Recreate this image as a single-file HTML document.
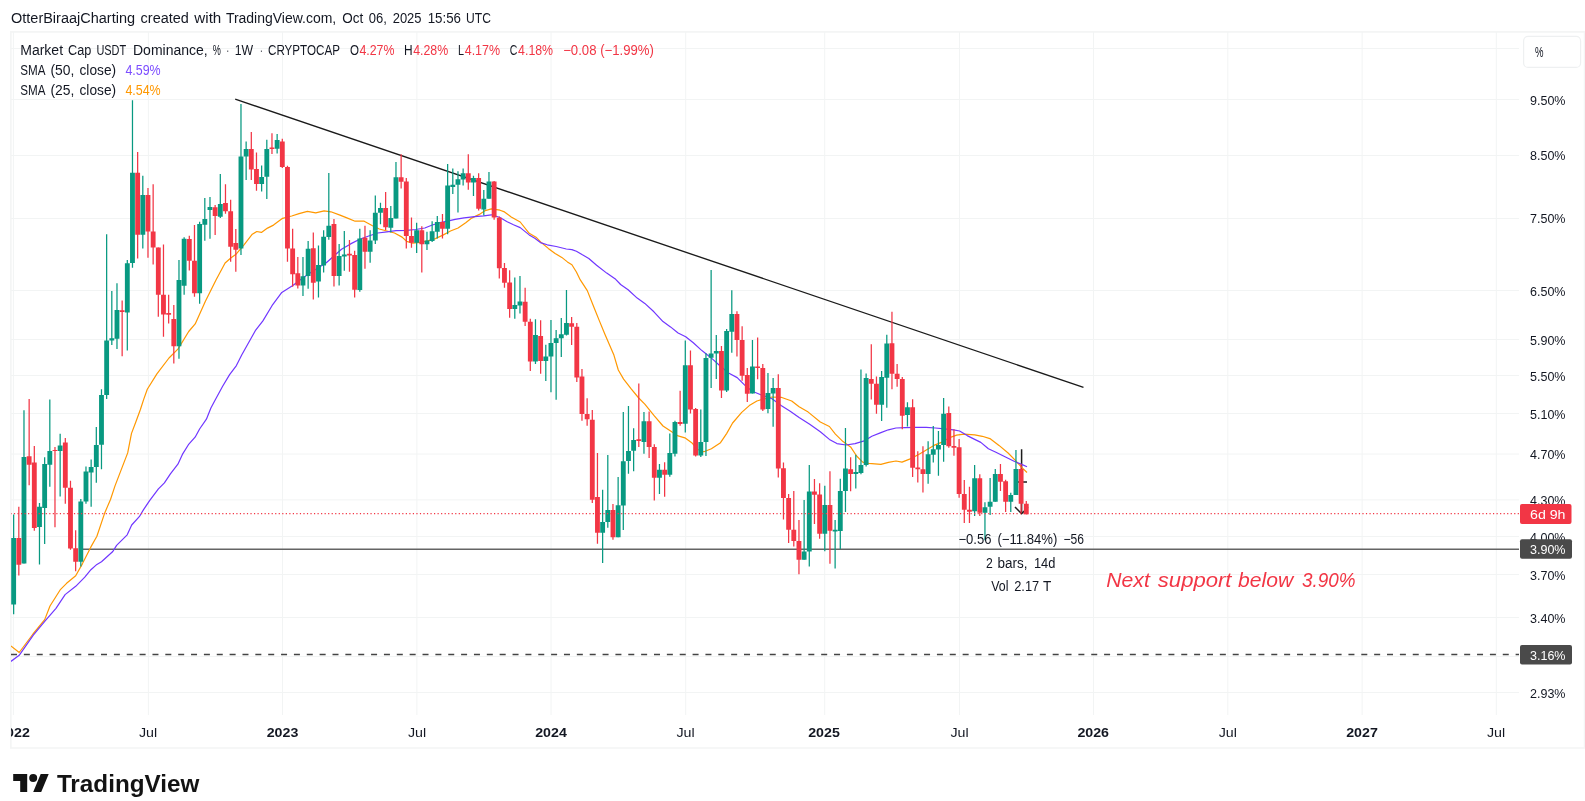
<!DOCTYPE html>
<html><head><meta charset="utf-8"><title>chart</title>
<style>html,body{margin:0;padding:0;background:#fff;width:1585px;height:801px;overflow:hidden}</style></head>
<body>
<svg width="1585" height="801" viewBox="0 0 1585 801" style="position:absolute;left:0;top:0;will-change:transform;font-family:'Liberation Sans',sans-serif">
<defs><clipPath id="pane"><rect x="11" y="32" width="1508" height="683"/></clipPath><clipPath id="tax"><rect x="11" y="715" width="1573" height="32"/></clipPath></defs>
<rect x="0" y="0" width="1585" height="801" fill="#fff"/>
<path d="M10.85 31.8H1584.6V748H10.85z" fill="none" stroke="#f4f5f5" stroke-width="1.7"/>
<path d="M11 48.5H1519.0 M11 99.5H1519.0 M11 155.5H1519.0 M11 218.5H1519.0 M11 290.5H1519.0 M11 339.5H1519.0 M11 375.5H1519.0 M11 413.5H1519.0 M11 454.0H1519.0 M11 499.9H1519.0 M11 536.5H1519.0 M11 574.5H1519.0 M11 617.5H1519.0 M11 656.5H1519.0 M11 692.5H1519.0 M13.4 32V715.0 M148.4 32V715.0 M282.5 32V715.0 M416.9 32V715.0 M551.0 32V715.0 M685.7 32V715.0 M824.7 32V715.0 M959.5 32V715.0 M1093.5 32V715.0 M1227.8 32V715.0 M1362.1 32V715.0 M1496.3 32V715.0" stroke="#f2f4f4" stroke-width="1" fill="none"/>
<g clip-path="url(#pane)">
<path d="M235.2 99.15L1083.5 387.35" stroke="#1a1a1a" stroke-width="1.35" fill="none"/>
<path d="M83 549.3H1520.0" stroke="#646464" stroke-width="1.6" fill="none"/>
<path d="M11 654.5H1520.0" stroke="#444" stroke-width="1.4" stroke-dasharray="6 6.86" fill="none"/>
<path d="M1021.6 449.2V513.4M1015 507L1021.6 513.7L1028 507.3M1016.5 482H1027" stroke="#1c1c1c" stroke-width="1.5" fill="none"/>
<path d="M10.9 646.0 L19.2 652.5 L33.0 634.0 L44.7 619.6 L50.0 606.0 L60.6 589.3 L66.6 583.3 L75.7 575.7 L82.5 563.6 L90.9 546.9 L96.9 536.3 L104.5 513.6 L106.0 509.9 L110.5 499.5 L115.0 485.9 L122.5 466.4 L127.7 452.9 L131.5 433.4 L136.0 421.5 L140.4 409.5 L143.6 399.6 L147.3 389.3 L156.9 373.9 L169.0 358.0 L178.1 348.9 L188.7 331.5 L195.2 323.9 L205.4 301.2 L216.0 280.0 L225.1 263.0 L231.1 257.7 L235.7 254.6 L244.0 244.8 L252.3 234.2 L256.8 231.5 L261.4 232.4 L267.5 228.1 L273.5 225.1 L282.6 218.3 L291.7 216.0 L299.1 213.6 L307.4 211.3 L315.7 212.8 L324.1 210.9 L330.9 211.8 L340.0 215.1 L347.5 218.1 L355.1 221.2 L364.2 221.2 L372.5 225.7 L379.3 229.0 L386.9 231.0 L394.5 233.0 L402.1 237.1 L406.6 241.3 L412.7 243.1 L420.2 242.4 L427.8 240.9 L435.4 238.6 L442.9 235.1 L450.5 231.0 L458.1 228.0 L465.7 222.7 L471.7 218.1 L479.3 214.4 L485.3 210.6 L491.4 208.8 L500.0 210.2 L504.5 211.9 L511.2 217.0 L520.2 222.0 L529.2 233.3 L536.0 237.2 L541.6 242.8 L548.3 248.4 L555.1 253.5 L561.8 257.4 L567.4 261.9 L571.9 264.7 L576.4 272.0 L580.3 279.9 L587.3 290.6 L593.3 305.7 L599.4 320.9 L604.8 333.9 L611.5 349.6 L613.9 355.1 L618.3 370.0 L623.6 379.1 L631.2 388.9 L638.7 398.0 L644.8 404.1 L653.9 415.4 L663.0 426.0 L672.1 432.1 L678.1 435.9 L684.9 437.8 L691.7 442.7 L697.8 449.5 L703.9 451.8 L711.4 448.7 L720.5 442.7 L726.6 433.6 L732.6 423.0 L741.7 412.4 L749.3 405.6 L756.9 401.0 L764.4 398.8 L772.0 397.0 L781.1 397.3 L791.7 401.0 L799.1 406.8 L808.2 412.1 L820.3 422.0 L829.4 426.5 L835.4 434.1 L843.0 441.6 L850.6 446.9 L856.6 456.0 L862.7 462.1 L868.7 463.3 L880.9 464.4 L888.4 462.4 L896.0 461.0 L902.0 462.1 L909.6 459.1 L918.7 454.5 L926.3 450.0 L933.9 445.4 L941.4 442.4 L949.0 437.9 L956.6 435.1 L964.1 434.1 L974.7 434.8 L982.3 436.3 L989.9 438.6 L999.0 445.4 L1008.1 453.0 L1015.6 460.6 L1021.7 467.4 L1027.0 472.5" stroke="#FF9800" stroke-width="1.2" fill="none" stroke-linejoin="round"/>
<path d="M10.9 661.4 L19.2 655.3 L33.3 635.1 L46.2 619.6 L56.0 608.3 L65.1 594.6 L75.7 586.3 L84.8 577.2 L90.9 569.7 L96.9 564.4 L101.5 561.8 L112.8 551.5 L116.6 545.4 L127.2 534.8 L131.7 525.0 L139.3 516.7 L143.4 509.9 L149.6 500.6 L158.4 488.9 L164.4 482.9 L170.4 473.9 L177.9 464.2 L182.4 454.4 L188.4 444.7 L195.1 437.2 L199.6 429.0 L206.4 419.2 L210.9 408.0 L215.3 399.7 L222.5 386.5 L229.6 374.6 L236.4 365.6 L241.7 355.0 L255.3 330.7 L262.9 320.9 L272.0 305.7 L281.8 292.4 L293.2 285.3 L300.0 280.0 L310.0 273.0 L320.3 266.6 L326.3 262.8 L333.9 256.0 L341.5 249.2 L350.6 243.9 L359.7 239.3 L368.7 236.0 L377.8 233.0 L386.9 231.8 L396.0 230.7 L406.6 230.3 L415.7 229.5 L424.8 228.0 L432.3 225.0 L439.9 222.7 L447.5 221.2 L455.1 219.4 L464.1 217.8 L474.7 216.6 L483.8 215.9 L491.4 214.8 L500.0 217.5 L506.7 221.5 L513.5 224.8 L520.2 227.6 L529.2 234.9 L534.8 238.3 L540.4 242.6 L547.2 244.8 L556.2 246.5 L566.3 249.0 L571.9 249.6 L576.4 251.2 L582.0 254.6 L588.8 258.5 L596.6 265.3 L606.7 273.1 L615.7 279.3 L620.6 284.5 L628.1 289.8 L637.2 298.1 L644.8 303.4 L653.9 311.8 L663.0 321.6 L670.5 326.9 L678.1 333.0 L685.7 336.8 L693.3 342.8 L700.8 349.6 L704.7 352.8 L712.3 358.9 L719.9 365.7 L729.0 373.3 L737.2 377.6 L744.7 385.1 L752.3 391.2 L761.4 395.0 L772.0 398.8 L781.1 405.6 L790.2 411.2 L799.1 417.4 L809.7 424.2 L820.3 431.8 L829.4 439.4 L836.9 443.6 L846.0 445.0 L855.1 443.6 L864.2 440.9 L871.8 436.3 L880.9 432.6 L888.4 429.8 L896.0 428.0 L905.1 427.7 L915.7 427.3 L926.3 427.3 L935.4 428.0 L944.5 428.8 L953.5 429.8 L959.6 431.0 L967.2 435.6 L974.7 439.4 L980.8 442.4 L988.4 448.8 L995.9 452.2 L1005.0 456.8 L1014.1 461.3 L1021.7 464.4 L1027.0 466.7" stroke="#7036FF" stroke-width="1.2" fill="none" stroke-linejoin="round"/>
<path d="M13.65 514.4V614.3 M23.98 410.3V563.6 M39.48 503.0V564.4 M44.65 457.2V543.9 M49.82 399.4V486.8 M60.15 433.8V496.6 M80.81 498.9V566.6 M85.98 466.6V503.8 M91.15 459.5V506.8 M96.31 426.9V482.7 M101.48 389.2V469.3 M106.65 234.2V398.9 M111.81 290.9V345.1 M116.98 283.3V348.9 M127.31 259.9V350.4 M132.48 100.3V267.8 M142.81 175.8V248.6 M178.98 259.9V358.7 M184.14 237.2V294.7 M199.64 221.8V303.8 M204.81 197.9V240.7 M209.98 197.0V238.7 M220.31 174.1V218.0 M240.98 103.9V254.9 M246.14 141.5V179.9 M261.64 165.4V191.5 M266.81 139.7V198.9 M277.14 133.9V153.6 M302.97 257.0V296.0 M308.14 240.9V288.8 M318.47 245.6V297.5 M323.64 230.3V272.6 M328.81 173.0V239.8 M339.14 244.0V285.4 M344.31 231.0V270.7 M359.81 228.7V291.8 M370.14 230.3V262.7 M375.31 195.4V243.9 M380.47 202.7V224.2 M390.80 206.0V232.5 M395.97 162.1V218.4 M416.64 222.7V253.0 M426.97 231.8V249.9 M432.14 221.2V242.1 M437.30 215.9V238.6 M447.64 163.9V234.3 M452.80 168.5V193.9 M457.97 171.2V212.5 M463.14 168.5V185.6 M473.47 175.7V195.9 M483.80 190.1V215.4 M488.97 172.0V198.8 M514.80 277.4V318.7 M519.97 275.9V313.4 M535.47 319.2V363.9 M545.80 344.8V380.9 M550.97 320.0V392.2 M556.13 330.1V399.8 M561.30 318.0V356.9 M566.47 290.1V335.4 M602.63 489.8V563.0 M607.80 455.1V527.7 M618.13 477.1V537.2 M623.30 412.1V530.1 M628.46 405.9V473.7 M633.63 428.3V471.2 M643.96 412.1V453.7 M659.46 464.0V494.1 M669.80 433.6V476.8 M674.96 420.7V456.6 M685.29 340.6V432.4 M700.79 409.4V457.1 M705.96 353.3V456.0 M711.13 270.1V388.0 M716.29 335.0V379.0 M726.63 329.1V392.1 M731.79 290.3V352.8 M752.46 340.0V393.5 M767.96 373.0V413.2 M773.13 378.0V426.8 M804.12 500.0V559.8 M809.29 465.1V566.6 M824.79 485.7V551.2 M835.12 520.1V568.6 M840.29 478.7V548.9 M845.46 428.0V512.0 M855.79 454.8V488.6 M860.96 369.4V474.2 M866.12 373.4V466.6 M881.62 370.9V420.9 M886.79 334.8V407.7 M907.45 402.2V426.5 M928.12 441.2V483.7 M933.29 426.0V462.5 M938.45 431.0V475.7 M943.62 398.0V461.8 M974.62 465.1V515.9 M984.95 502.2V540.2 M990.12 478.0V515.1 M995.28 468.9V501.8 M1010.78 492.7V512.1 M1015.95 450.0V494.9" stroke="#089981" stroke-width="1.25" fill="none"/>
<path d="M11.23 537.9h4.85v66.6h-4.85z M21.56 456.9h4.85v106.7h-4.85z M37.06 506.8h4.85v20.2h-4.85z M42.22 464.0h4.85v43.9h-4.85z M47.39 450.9h4.85v13.9h-4.85z M57.72 445.4h4.85v5.5h-4.85z M78.39 501.5h4.85v60.3h-4.85z M83.56 471.6h4.85v29.9h-4.85z M88.72 467.1h4.85v5.3h-4.85z M93.89 445.1h4.85v22.0h-4.85z M99.06 394.9h4.85v49.9h-4.85z M104.22 340.6h4.85v54.3h-4.85z M109.39 338.3h4.85v2.3h-4.85z M114.56 310.0h4.85v28.8h-4.85z M124.89 263.3h4.85v49.3h-4.85z M130.05 172.7h4.85v90.3h-4.85z M140.39 195.0h4.85v39.7h-4.85z M176.55 280.0h4.85v66.2h-4.85z M181.72 238.7h4.85v47.1h-4.85z M197.22 223.9h4.85v69.4h-4.85z M202.39 219.1h4.85v5.7h-4.85z M207.55 206.9h4.85v3.1h-4.85z M217.88 203.9h4.85v12.9h-4.85z M238.55 156.6h4.85v92.0h-4.85z M243.72 149.1h4.85v7.5h-4.85z M259.22 177.0h4.85v6.9h-4.85z M264.38 149.1h4.85v27.7h-4.85z M274.72 140.0h4.85v8.8h-4.85z M300.55 276.3h4.85v9.1h-4.85z M305.72 248.8h4.85v27.1h-4.85z M316.05 264.9h4.85v16.7h-4.85z M321.21 236.8h4.85v28.8h-4.85z M326.38 225.7h4.85v11.4h-4.85z M336.71 256.1h4.85v19.8h-4.85z M341.88 254.6h4.85v1.9h-4.85z M357.38 238.6h4.85v51.4h-4.85z M367.71 240.4h4.85v11.4h-4.85z M372.88 212.8h4.85v27.6h-4.85z M378.05 208.0h4.85v4.8h-4.85z M388.38 218.1h4.85v9.6h-4.85z M393.55 177.3h4.85v41.1h-4.85z M414.21 230.3h4.85v12.5h-4.85z M424.54 240.4h4.85v3.8h-4.85z M429.71 231.3h4.85v9.6h-4.85z M434.88 221.9h4.85v9.9h-4.85z M445.21 185.6h4.85v43.1h-4.85z M450.38 184.8h4.85v2.3h-4.85z M455.54 179.2h4.85v5.6h-4.85z M460.71 173.2h4.85v6.3h-4.85z M471.04 178.0h4.85v4.6h-4.85z M481.38 198.8h4.85v10.7h-4.85z M486.54 181.5h4.85v17.3h-4.85z M512.38 305.1h4.85v3.8h-4.85z M517.54 301.6h4.85v4.0h-4.85z M533.04 335.1h4.85v26.5h-4.85z M543.37 356.6h4.85v4.3h-4.85z M548.54 343.0h4.85v13.6h-4.85z M553.71 338.2h4.85v4.8h-4.85z M558.87 334.2h4.85v4.0h-4.85z M564.04 323.0h4.85v11.7h-4.85z M600.21 522.1h4.85v10.6h-4.85z M605.37 510.0h4.85v12.1h-4.85z M615.71 505.3h4.85v31.9h-4.85z M620.87 461.3h4.85v44.3h-4.85z M626.04 451.0h4.85v9.9h-4.85z M631.21 440.0h4.85v10.7h-4.85z M641.54 421.2h4.85v20.7h-4.85z M657.04 469.7h4.85v8.1h-4.85z M667.37 453.0h4.85v21.8h-4.85z M672.54 421.9h4.85v31.8h-4.85z M682.87 365.3h4.85v58.5h-4.85z M698.37 441.9h4.85v13.7h-4.85z M703.54 358.1h4.85v83.8h-4.85z M708.70 353.6h4.85v4.2h-4.85z M713.87 351.0h4.85v2.6h-4.85z M724.20 331.0h4.85v59.4h-4.85z M729.37 313.9h4.85v17.8h-4.85z M750.03 366.6h4.85v26.9h-4.85z M765.53 393.0h4.85v16.1h-4.85z M770.70 388.1h4.85v5.4h-4.85z M801.70 551.5h4.85v8.3h-4.85z M806.87 491.4h4.85v60.2h-4.85z M822.37 505.0h4.85v28.8h-4.85z M832.70 529.7h4.85v1.8h-4.85z M837.87 491.0h4.85v40.0h-4.85z M843.03 468.4h4.85v22.6h-4.85z M853.36 472.1h4.85v1.8h-4.85z M858.53 465.1h4.85v7.9h-4.85z M863.70 378.0h4.85v87.1h-4.85z M879.20 376.9h4.85v27.9h-4.85z M884.36 343.5h4.85v34.2h-4.85z M905.03 407.2h4.85v7.9h-4.85z M925.70 454.2h4.85v19.7h-4.85z M930.86 449.2h4.85v5.6h-4.85z M936.03 445.0h4.85v4.5h-4.85z M941.20 413.8h4.85v31.2h-4.85z M972.19 478.3h4.85v33.0h-4.85z M982.53 507.2h4.85v5.5h-4.85z M987.69 501.8h4.85v5.0h-4.85z M992.86 473.9h4.85v27.9h-4.85z M1008.36 494.9h4.85v6.9h-4.85z M1013.53 469.1h4.85v25.8h-4.85z" fill="#089981"/>
<path d="M18.82 506.8V575.4 M29.15 398.9V485.2 M34.32 446.0V530.7 M54.98 447.1V527.3 M65.31 438.0V503.8 M70.48 480.7V549.7 M75.65 530.3V571.2 M122.15 300.4V356.2 M137.65 152.1V258.4 M147.98 188.0V257.7 M153.15 184.2V264.5 M158.31 247.5V316.8 M163.48 244.5V336.8 M168.65 294.7V323.6 M173.81 305.0V363.6 M189.31 235.7V270.5 M194.48 225.1V296.7 M215.14 205.0V235.0 M225.48 184.2V213.8 M230.64 199.7V261.8 M235.81 228.9V271.7 M251.31 132.1V179.9 M256.48 152.5V190.8 M271.97 133.2V153.9 M282.31 138.8V168.0 M287.47 165.7V261.8 M292.64 228.8V286.7 M297.81 256.9V288.4 M313.31 232.5V299.5 M333.97 218.9V286.6 M349.47 240.1V271.8 M354.64 250.8V297.5 M364.97 225.7V268.8 M385.64 192.1V230.0 M401.14 154.2V188.6 M406.30 178.0V248.4 M411.47 217.4V247.7 M421.80 226.2V272.6 M442.47 213.9V238.6 M468.30 154.2V189.8 M478.63 173.2V210.6 M494.13 181.0V219.7 M499.30 216.6V278.6 M504.47 262.9V287.7 M509.63 270.3V317.7 M525.13 287.7V326.0 M530.30 318.8V371.0 M540.63 320.3V373.7 M571.63 317.0V345.0 M576.80 323.0V382.0 M581.97 369.0V420.7 M587.13 398.2V425.7 M592.30 410.1V502.9 M597.46 453.0V543.7 M612.96 503.9V539.8 M638.80 383.6V446.9 M649.13 411.6V458.1 M654.30 444.2V500.6 M664.63 462.2V496.8 M680.13 390.7V425.7 M690.46 350.6V413.6 M695.63 407.9V456.6 M721.46 346.0V398.0 M736.96 311.2V356.6 M742.13 326.3V380.7 M747.29 368.1V402.1 M757.63 337.6V379.3 M762.79 364.1V410.9 M778.29 374.2V477.6 M783.46 462.5V519.6 M788.62 494.1V542.9 M793.79 491.0V546.6 M798.96 520.1V574.3 M814.46 479.0V523.9 M819.62 483.2V538.8 M829.96 471.2V563.7 M850.62 457.2V491.3 M871.29 344.2V399.6 M876.46 376.5V413.8 M891.96 311.8V389.3 M897.12 363.9V386.8 M902.29 376.9V429.2 M912.62 399.2V476.9 M917.79 451.2V482.5 M922.95 446.2V492.4 M948.79 406.5V447.7 M953.95 429.2V455.7 M959.12 439.1V497.8 M964.29 480.0V522.9 M969.45 486.8V522.9 M979.79 474.2V515.9 M1000.45 464.1V490.9 M1005.62 479.8V512.1 M1021.12 464.0V513.0 M1026.28 501.1V514.6" stroke="#F23645" stroke-width="1.25" fill="none"/>
<path d="M16.39 537.9h4.85v26.9h-4.85z M26.72 456.2h4.85v8.5h-4.85z M31.89 462.5h4.85v65.5h-4.85z M52.56 450.0h4.85v1.0h-4.85z M62.89 442.4h4.85v45.4h-4.85z M68.06 487.8h4.85v60.7h-4.85z M73.22 548.2h4.85v13.6h-4.85z M119.72 310.3h4.85v1.8h-4.85z M135.22 172.7h4.85v62.0h-4.85z M145.55 195.0h4.85v36.6h-4.85z M150.72 231.6h4.85v15.9h-4.85z M155.89 247.5h4.85v47.2h-4.85z M161.05 294.7h4.85v19.7h-4.85z M166.22 313.0h4.85v1.8h-4.85z M171.39 319.0h4.85v27.2h-4.85z M186.89 239.0h4.85v21.7h-4.85z M192.05 260.7h4.85v32.6h-4.85z M212.72 207.2h4.85v8.8h-4.85z M223.05 203.0h4.85v8.2h-4.85z M228.22 211.2h4.85v35.6h-4.85z M233.38 243.0h4.85v6.8h-4.85z M248.88 149.1h4.85v20.5h-4.85z M254.05 169.0h4.85v14.9h-4.85z M269.55 147.5h4.85v1.5h-4.85z M279.88 141.5h4.85v25.4h-4.85z M285.05 167.0h4.85v81.6h-4.85z M290.22 248.6h4.85v25.6h-4.85z M295.38 273.3h4.85v12.2h-4.85z M310.88 248.2h4.85v34.5h-4.85z M331.55 223.9h4.85v52.0h-4.85z M347.05 253.8h4.85v1.7h-4.85z M352.21 255.0h4.85v34.7h-4.85z M362.55 237.8h4.85v14.0h-4.85z M383.21 208.0h4.85v19.2h-4.85z M398.71 177.3h4.85v4.5h-4.85z M403.88 181.5h4.85v54.5h-4.85z M409.05 236.0h4.85v6.8h-4.85z M419.38 230.3h4.85v13.9h-4.85z M440.04 221.9h4.85v6.8h-4.85z M465.88 173.2h4.85v9.4h-4.85z M476.21 178.0h4.85v30.8h-4.85z M491.71 181.5h4.85v35.9h-4.85z M496.88 217.7h4.85v50.5h-4.85z M502.04 267.9h4.85v14.8h-4.85z M507.21 282.4h4.85v26.5h-4.85z M522.71 301.8h4.85v20.0h-4.85z M527.88 321.8h4.85v39.8h-4.85z M538.21 335.9h4.85v25.0h-4.85z M569.21 323.3h4.85v3.5h-4.85z M574.37 326.8h4.85v50.6h-4.85z M579.54 376.5h4.85v37.4h-4.85z M584.71 413.9h4.85v5.3h-4.85z M589.87 419.7h4.85v80.0h-4.85z M595.04 497.1h4.85v35.6h-4.85z M610.54 510.0h4.85v27.2h-4.85z M636.37 439.2h4.85v1.7h-4.85z M646.70 421.2h4.85v25.7h-4.85z M651.87 446.9h4.85v30.9h-4.85z M662.20 469.7h4.85v5.1h-4.85z M677.70 421.9h4.85v2.2h-4.85z M688.04 365.3h4.85v44.1h-4.85z M693.20 409.1h4.85v46.5h-4.85z M719.04 351.0h4.85v39.4h-4.85z M734.54 313.9h4.85v26.1h-4.85z M739.70 340.0h4.85v35.8h-4.85z M744.87 375.0h4.85v18.7h-4.85z M755.20 366.4h4.85v1.7h-4.85z M760.37 367.9h4.85v41.5h-4.85z M775.87 388.1h4.85v80.4h-4.85z M781.03 468.2h4.85v29.7h-4.85z M786.20 497.9h4.85v31.8h-4.85z M791.37 529.8h4.85v11.2h-4.85z M796.53 541.0h4.85v18.8h-4.85z M812.03 491.4h4.85v3.3h-4.85z M817.20 494.4h4.85v39.4h-4.85z M827.53 505.0h4.85v25.7h-4.85z M848.20 469.2h4.85v4.7h-4.85z M868.86 379.0h4.85v4.7h-4.85z M874.03 383.7h4.85v21.1h-4.85z M889.53 343.2h4.85v30.5h-4.85z M894.70 373.7h4.85v5.3h-4.85z M899.86 379.0h4.85v36.7h-4.85z M910.20 407.2h4.85v60.6h-4.85z M915.36 467.4h4.85v1.8h-4.85z M920.53 469.2h4.85v4.7h-4.85z M946.36 413.0h4.85v33.2h-4.85z M951.53 445.9h4.85v1.8h-4.85z M956.69 447.2h4.85v46.8h-4.85z M961.86 494.0h4.85v15.8h-4.85z M967.03 509.8h4.85v1.9h-4.85z M977.36 478.3h4.85v34.4h-4.85z M998.03 473.9h4.85v7.9h-4.85z M1003.19 481.3h4.85v20.5h-4.85z M1018.69 469.0h4.85v34.8h-4.85z M1023.86 503.8h4.85v10.4h-4.85z" fill="#F23645"/>
<path d="M11 513.6H1520.0" stroke="#F23645" stroke-width="1.2" stroke-dasharray="1.2 2.33" stroke-dashoffset="0.6" fill="none"/>
</g>
<text x="11" y="23" font-size="14" fill="#131722" text-anchor="start" font-weight="normal" font-style="normal" textLength="124" lengthAdjust="spacingAndGlyphs">OtterBiraajCharting</text>
<text x="140.6" y="23" font-size="14" fill="#131722" text-anchor="start" font-weight="normal" font-style="normal" textLength="48.2" lengthAdjust="spacingAndGlyphs">created</text>
<text x="194.3" y="23" font-size="14" fill="#131722" text-anchor="start" font-weight="normal" font-style="normal" textLength="27.0" lengthAdjust="spacingAndGlyphs">with</text>
<text x="225.9" y="23" font-size="14" fill="#131722" text-anchor="start" font-weight="normal" font-style="normal" textLength="110.3" lengthAdjust="spacingAndGlyphs">TradingView.com,</text>
<text x="342.3" y="23" font-size="14" fill="#131722" text-anchor="start" font-weight="normal" font-style="normal" textLength="21.0" lengthAdjust="spacingAndGlyphs">Oct</text>
<text x="368.8" y="23" font-size="14" fill="#131722" text-anchor="start" font-weight="normal" font-style="normal" textLength="18.1" lengthAdjust="spacingAndGlyphs">06,</text>
<text x="392.7" y="23" font-size="14" fill="#131722" text-anchor="start" font-weight="normal" font-style="normal" textLength="28.8" lengthAdjust="spacingAndGlyphs">2025</text>
<text x="427.7" y="23" font-size="14" fill="#131722" text-anchor="start" font-weight="normal" font-style="normal" textLength="33.3" lengthAdjust="spacingAndGlyphs">15:56</text>
<text x="466.1" y="23" font-size="14" fill="#131722" text-anchor="start" font-weight="normal" font-style="normal" textLength="24.8" lengthAdjust="spacingAndGlyphs">UTC</text>
<text x="20.2" y="54.8" font-size="14" fill="#131722" text-anchor="start" font-weight="normal" font-style="normal" textLength="42.9" lengthAdjust="spacingAndGlyphs">Market</text>
<text x="68.1" y="54.8" font-size="14" fill="#131722" text-anchor="start" font-weight="normal" font-style="normal" textLength="23.3" lengthAdjust="spacingAndGlyphs">Cap</text>
<text x="96.4" y="54.8" font-size="14" fill="#131722" text-anchor="start" font-weight="normal" font-style="normal" textLength="29.8" lengthAdjust="spacingAndGlyphs">USDT</text>
<text x="133" y="54.8" font-size="14" fill="#131722" text-anchor="start" font-weight="normal" font-style="normal" textLength="74.7" lengthAdjust="spacingAndGlyphs">Dominance,</text>
<text x="212.7" y="54.8" font-size="14" fill="#131722" text-anchor="start" font-weight="normal" font-style="normal" textLength="8.1" lengthAdjust="spacingAndGlyphs">%</text>
<text x="226.4" y="54.8" font-size="14" fill="#131722" text-anchor="start" font-weight="normal" font-style="normal" textLength="2.6" lengthAdjust="spacingAndGlyphs">·</text>
<text x="234.7" y="54.8" font-size="14" fill="#131722" text-anchor="start" font-weight="normal" font-style="normal" textLength="18.4" lengthAdjust="spacingAndGlyphs">1W</text>
<text x="259.9" y="54.8" font-size="14" fill="#131722" text-anchor="start" font-weight="normal" font-style="normal" textLength="2.6" lengthAdjust="spacingAndGlyphs">·</text>
<text x="268" y="54.8" font-size="14" fill="#131722" text-anchor="start" font-weight="normal" font-style="normal" textLength="72" lengthAdjust="spacingAndGlyphs">CRYPTOCAP</text>
<text x="350" y="54.8" font-size="14" fill="#131722" text-anchor="start" font-weight="normal" font-style="normal" textLength="9" lengthAdjust="spacingAndGlyphs">O</text>
<text x="359.4" y="54.8" font-size="14" fill="#F23645" text-anchor="start" font-weight="normal" font-style="normal" textLength="35" lengthAdjust="spacingAndGlyphs">4.27%</text>
<text x="404" y="54.8" font-size="14" fill="#131722" text-anchor="start" font-weight="normal" font-style="normal" textLength="8.6" lengthAdjust="spacingAndGlyphs">H</text>
<text x="413.2" y="54.8" font-size="14" fill="#F23645" text-anchor="start" font-weight="normal" font-style="normal" textLength="35" lengthAdjust="spacingAndGlyphs">4.28%</text>
<text x="458" y="54.8" font-size="14" fill="#131722" text-anchor="start" font-weight="normal" font-style="normal" textLength="6" lengthAdjust="spacingAndGlyphs">L</text>
<text x="464.7" y="54.8" font-size="14" fill="#F23645" text-anchor="start" font-weight="normal" font-style="normal" textLength="35.4" lengthAdjust="spacingAndGlyphs">4.17%</text>
<text x="509.7" y="54.8" font-size="14" fill="#131722" text-anchor="start" font-weight="normal" font-style="normal" textLength="7.6" lengthAdjust="spacingAndGlyphs">C</text>
<text x="518.1" y="54.8" font-size="14" fill="#F23645" text-anchor="start" font-weight="normal" font-style="normal" textLength="35" lengthAdjust="spacingAndGlyphs">4.18%</text>
<text x="563.2" y="54.8" font-size="14" fill="#F23645" text-anchor="start" font-weight="normal" font-style="normal" textLength="90.7" lengthAdjust="spacingAndGlyphs">−0.08 (−1.99%)</text>
<text x="20.2" y="75" font-size="14" fill="#131722" text-anchor="start" font-weight="normal" font-style="normal" textLength="25.2" lengthAdjust="spacingAndGlyphs">SMA</text>
<text x="50.5" y="75" font-size="14" fill="#131722" text-anchor="start" font-weight="normal" font-style="normal" textLength="23.9" lengthAdjust="spacingAndGlyphs">(50,</text>
<text x="79.5" y="75" font-size="14" fill="#131722" text-anchor="start" font-weight="normal" font-style="normal" textLength="36.6" lengthAdjust="spacingAndGlyphs">close)</text>
<text x="125.4" y="75" font-size="14" fill="#7C4DFF" text-anchor="start" font-weight="normal" font-style="normal" textLength="35.3" lengthAdjust="spacingAndGlyphs">4.59%</text>
<text x="20.2" y="94.6" font-size="14" fill="#131722" text-anchor="start" font-weight="normal" font-style="normal" textLength="25.2" lengthAdjust="spacingAndGlyphs">SMA</text>
<text x="50.5" y="94.6" font-size="14" fill="#131722" text-anchor="start" font-weight="normal" font-style="normal" textLength="23.9" lengthAdjust="spacingAndGlyphs">(25,</text>
<text x="79.5" y="94.6" font-size="14" fill="#131722" text-anchor="start" font-weight="normal" font-style="normal" textLength="36.6" lengthAdjust="spacingAndGlyphs">close)</text>
<text x="125.4" y="94.6" font-size="14" fill="#FF9800" text-anchor="start" font-weight="normal" font-style="normal" textLength="35.3" lengthAdjust="spacingAndGlyphs">4.54%</text>
<text x="958.5" y="544.4" font-size="14" fill="#131722" text-anchor="start" font-weight="normal" font-style="normal" textLength="33.0" lengthAdjust="spacingAndGlyphs">−0.56</text>
<text x="997.5" y="544.4" font-size="14" fill="#131722" text-anchor="start" font-weight="normal" font-style="normal" textLength="59.9" lengthAdjust="spacingAndGlyphs">(−11.84%)</text>
<text x="1063.4" y="544.4" font-size="14" fill="#131722" text-anchor="start" font-weight="normal" font-style="normal" textLength="20.5" lengthAdjust="spacingAndGlyphs">−56</text>
<text x="985.9" y="567.8" font-size="14" fill="#131722" text-anchor="start" font-weight="normal" font-style="normal" textLength="6.8" lengthAdjust="spacingAndGlyphs">2</text>
<text x="997.5" y="567.8" font-size="14" fill="#131722" text-anchor="start" font-weight="normal" font-style="normal" textLength="30.0" lengthAdjust="spacingAndGlyphs">bars,</text>
<text x="1033.9" y="567.8" font-size="14" fill="#131722" text-anchor="start" font-weight="normal" font-style="normal" textLength="21.5" lengthAdjust="spacingAndGlyphs">14d</text>
<text x="991.2" y="591.3" font-size="14" fill="#131722" text-anchor="start" font-weight="normal" font-style="normal" textLength="17.2" lengthAdjust="spacingAndGlyphs">Vol</text>
<text x="1014.2" y="591.3" font-size="14" fill="#131722" text-anchor="start" font-weight="normal" font-style="normal" textLength="25.0" lengthAdjust="spacingAndGlyphs">2.17</text>
<text x="1043" y="591.3" font-size="14" fill="#131722" text-anchor="start" font-weight="normal" font-style="normal" textLength="8.3" lengthAdjust="spacingAndGlyphs">T</text>
<text x="1106.3" y="587.4" font-size="20" fill="#F23645" text-anchor="start" font-weight="normal" font-style="italic" textLength="43.5" lengthAdjust="spacingAndGlyphs">Next</text>
<text x="1157.8" y="587.4" font-size="20" fill="#F23645" text-anchor="start" font-weight="normal" font-style="italic" textLength="73.7" lengthAdjust="spacingAndGlyphs">support</text>
<text x="1238" y="587.4" font-size="20" fill="#F23645" text-anchor="start" font-weight="normal" font-style="italic" textLength="55.2" lengthAdjust="spacingAndGlyphs">below</text>
<text x="1302" y="587.4" font-size="20" fill="#F23645" text-anchor="start" font-weight="normal" font-style="italic" textLength="53.5" lengthAdjust="spacingAndGlyphs">3.90%</text>
<text x="1530" y="105.4" font-size="13.7" fill="#131722" text-anchor="start" font-weight="normal" font-style="normal" textLength="35.5" lengthAdjust="spacingAndGlyphs">9.50%</text>
<text x="1530" y="160.4" font-size="13.7" fill="#131722" text-anchor="start" font-weight="normal" font-style="normal" textLength="35.5" lengthAdjust="spacingAndGlyphs">8.50%</text>
<text x="1530" y="223.4" font-size="13.7" fill="#131722" text-anchor="start" font-weight="normal" font-style="normal" textLength="35.5" lengthAdjust="spacingAndGlyphs">7.50%</text>
<text x="1530" y="296.4" font-size="13.7" fill="#131722" text-anchor="start" font-weight="normal" font-style="normal" textLength="35.5" lengthAdjust="spacingAndGlyphs">6.50%</text>
<text x="1530" y="345.4" font-size="13.7" fill="#131722" text-anchor="start" font-weight="normal" font-style="normal" textLength="35.5" lengthAdjust="spacingAndGlyphs">5.90%</text>
<text x="1530" y="380.7" font-size="13.7" fill="#131722" text-anchor="start" font-weight="normal" font-style="normal" textLength="35.5" lengthAdjust="spacingAndGlyphs">5.50%</text>
<text x="1530" y="418.7" font-size="13.7" fill="#131722" text-anchor="start" font-weight="normal" font-style="normal" textLength="35.5" lengthAdjust="spacingAndGlyphs">5.10%</text>
<text x="1530" y="459.4" font-size="13.7" fill="#131722" text-anchor="start" font-weight="normal" font-style="normal" textLength="35.5" lengthAdjust="spacingAndGlyphs">4.70%</text>
<text x="1530" y="504.59999999999997" font-size="13.7" fill="#131722" text-anchor="start" font-weight="normal" font-style="normal" textLength="35.5" lengthAdjust="spacingAndGlyphs">4.30%</text>
<text x="1530" y="541.9" font-size="13.7" fill="#131722" text-anchor="start" font-weight="normal" font-style="normal" textLength="35.5" lengthAdjust="spacingAndGlyphs">4.00%</text>
<text x="1530" y="579.9" font-size="13.7" fill="#131722" text-anchor="start" font-weight="normal" font-style="normal" textLength="35.5" lengthAdjust="spacingAndGlyphs">3.70%</text>
<text x="1530" y="623.4" font-size="13.7" fill="#131722" text-anchor="start" font-weight="normal" font-style="normal" textLength="35.5" lengthAdjust="spacingAndGlyphs">3.40%</text>
<text x="1530" y="697.6" font-size="13.7" fill="#131722" text-anchor="start" font-weight="normal" font-style="normal" textLength="35.5" lengthAdjust="spacingAndGlyphs">2.93%</text>
<rect x="1520" y="504" width="51.5" height="20" rx="2" fill="#F23645"/>
<text x="1530" y="518.7" font-size="13.7" fill="#fff" text-anchor="start" font-weight="normal" font-style="normal" textLength="35.5" lengthAdjust="spacingAndGlyphs">6d 9h</text>
<rect x="1520" y="539.3" width="52" height="19.5" rx="2" fill="#4a4a4a"/>
<text x="1530" y="554" font-size="13.7" fill="#fff" text-anchor="start" font-weight="normal" font-style="normal" textLength="35.5" lengthAdjust="spacingAndGlyphs">3.90%</text>
<rect x="1520" y="645" width="52" height="19.5" rx="2" fill="#4a4a4a"/>
<text x="1530" y="659.6" font-size="13.7" fill="#fff" text-anchor="start" font-weight="normal" font-style="normal" textLength="35.5" lengthAdjust="spacingAndGlyphs">3.16%</text>
<rect x="1523.6" y="36.4" width="57" height="31" rx="4.5" fill="#fff" stroke="#eef0f1" stroke-width="1.2"/>
<text x="1535" y="56.9" font-size="14.6" fill="#131722" text-anchor="start" font-weight="normal" font-style="normal" textLength="8.5" lengthAdjust="spacingAndGlyphs">%</text>
<g clip-path="url(#tax)">
<text x="14.0" y="737.2" font-size="13.7" fill="#131722" text-anchor="middle" font-weight="bold" font-style="normal" textLength="31.6" lengthAdjust="spacingAndGlyphs">2022</text>
<text x="148" y="737.2" font-size="13.7" fill="#131722" text-anchor="middle" font-weight="normal" font-style="normal" textLength="18.2" lengthAdjust="spacingAndGlyphs">Jul</text>
<text x="282.5" y="737.2" font-size="13.7" fill="#131722" text-anchor="middle" font-weight="bold" font-style="normal" textLength="31.6" lengthAdjust="spacingAndGlyphs">2023</text>
<text x="417" y="737.2" font-size="13.7" fill="#131722" text-anchor="middle" font-weight="normal" font-style="normal" textLength="18.2" lengthAdjust="spacingAndGlyphs">Jul</text>
<text x="551" y="737.2" font-size="13.7" fill="#131722" text-anchor="middle" font-weight="bold" font-style="normal" textLength="31.6" lengthAdjust="spacingAndGlyphs">2024</text>
<text x="685.6" y="737.2" font-size="13.7" fill="#131722" text-anchor="middle" font-weight="normal" font-style="normal" textLength="18.2" lengthAdjust="spacingAndGlyphs">Jul</text>
<text x="824" y="737.2" font-size="13.7" fill="#131722" text-anchor="middle" font-weight="bold" font-style="normal" textLength="31.6" lengthAdjust="spacingAndGlyphs">2025</text>
<text x="959.5" y="737.2" font-size="13.7" fill="#131722" text-anchor="middle" font-weight="normal" font-style="normal" textLength="18.2" lengthAdjust="spacingAndGlyphs">Jul</text>
<text x="1093.2" y="737.2" font-size="13.7" fill="#131722" text-anchor="middle" font-weight="bold" font-style="normal" textLength="31.6" lengthAdjust="spacingAndGlyphs">2026</text>
<text x="1227.8" y="737.2" font-size="13.7" fill="#131722" text-anchor="middle" font-weight="normal" font-style="normal" textLength="18.2" lengthAdjust="spacingAndGlyphs">Jul</text>
<text x="1362" y="737.2" font-size="13.7" fill="#131722" text-anchor="middle" font-weight="bold" font-style="normal" textLength="31.6" lengthAdjust="spacingAndGlyphs">2027</text>
<text x="1496.1" y="737.2" font-size="13.7" fill="#131722" text-anchor="middle" font-weight="normal" font-style="normal" textLength="18.2" lengthAdjust="spacingAndGlyphs">Jul</text>
</g>
<g transform="translate(13.2,769.9)" fill="#131313"><path d="M14 22H7V11H0V4h14v18zM28 22h-8l7.5-18h8L28 22z"/><circle cx="20" cy="8" r="4"/></g>
<text x="56.9" y="791.6" font-size="24" fill="#131313" text-anchor="start" font-weight="bold" font-style="normal" textLength="142.5" lengthAdjust="spacingAndGlyphs">TradingView</text>
</svg>
</body></html>
